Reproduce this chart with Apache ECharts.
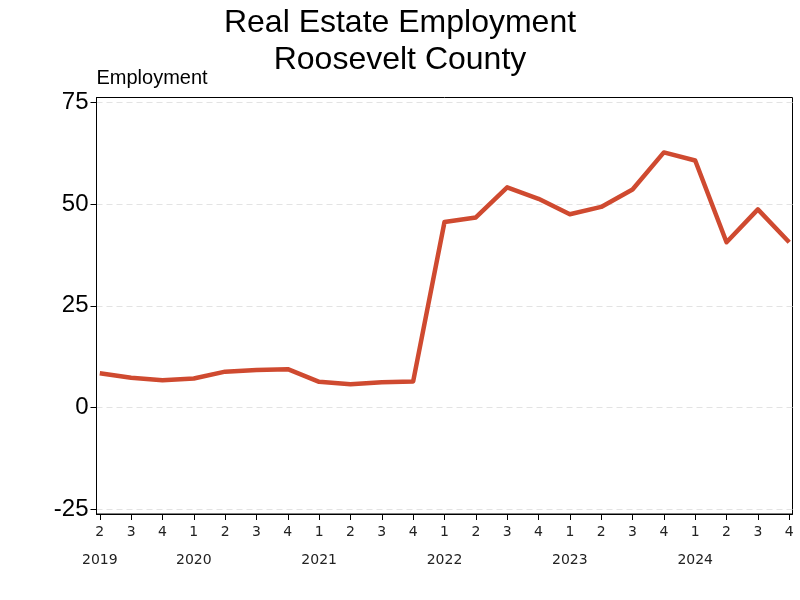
<!DOCTYPE html>
<html><head><meta charset="utf-8">
<script src="https://cdn.jsdelivr.net/npm/echarts@6/dist/echarts.min.js"></script>
<style>html,body{margin:0;padding:0;background:#fff}#c{width:800px;height:600px}</style>
</head><body><div id="c"></div>
<script>
const quarters = ['2','3','4','1','2','3','4','1','2','3','4','1','2','3','4','1','2','3','4','1','2','3','4'];
const years = ['2019','','','2020','','','','2021','','','','2022','','','','2023','','','','2024','','',''];
const employment = [8.4,7.3,6.7,7.1,8.8,9.2,9.4,6.3,5.7,6.2,6.4,45.6,46.7,54.1,51.3,47.5,49.3,53.6,62.7,60.7,40.6,48.7,40.6];
const yTicks = [-25,0,25,50,75];

const idx = quarters.map((_, i) => i);
const chart = echarts.init(document.getElementById('c'));
chart.setOption({
  animation: false,
  title: {
    text: 'Real Estate Employment\nRoosevelt County',
    left: 'center', top: 0,
    textStyle: {fontFamily: 'Liberation Sans', fontSize: 32, fontWeight: 'normal', color: '#000', lineHeight: 37}
  },
  grid: {left: 96.5, right: 7.5, top: 97.5, bottom: 86, show: true, borderColor: '#000', borderWidth: 1, backgroundColor: 'transparent'},
  xAxis: {
    type: 'value', min: -0.105, max: 22.105,
    axisLine: {show: true, onZero: false, lineStyle: {color: '#000'}},
    axisTick: {show: true, customValues: idx, length: 6, lineStyle: {color: '#000'}},
    splitLine: {show: false},
    axisLabel: {
      customValues: idx, margin: 8,
      formatter: v => { const i = Math.round(v); return years[i] ? '{q|' + quarters[i] + '}\n{y|' + years[i] + '}' : '{q|' + quarters[i] + '}'; },
      rich: {
        q: {fontFamily: 'DejaVu Sans', fontSize: 14, color: '#222', lineHeight: 20},
        y: {fontFamily: 'DejaVu Sans', fontSize: 14, color: '#222', lineHeight: 25, verticalAlign: 'bottom'}
      }
    }
  },
  yAxis: {
    type: 'value', min: -26.2, max: 76.2,
    name: 'Employment', nameLocation: 'end', nameGap: 9,
    nameTextStyle: {fontFamily: 'Liberation Sans', fontSize: 20, color: '#000', align: 'left', verticalAlign: 'bottom', padding: [0,0,0,0]},
    axisLine: {show: true, onZero: false, lineStyle: {color: '#000'}},
    axisTick: {show: true, customValues: yTicks, length: 6, lineStyle: {color: '#000'}},
    axisLabel: {customValues: yTicks, margin: 8, fontFamily: 'Liberation Sans', fontSize: 24, color: '#000'},
    splitLine: {show: true, lineStyle: {color: '#e3e3e3', type: [6, 4], width: 1}}
  },
  series: [{
    type: 'line',
    data: employment.map((v, i) => [i, v]),
    showSymbol: false,
    lineStyle: {color: '#CF4A30', width: 4.5, join: 'round'},
    itemStyle: {color: '#CF4A30'}
  }]
});
</script></body></html>
